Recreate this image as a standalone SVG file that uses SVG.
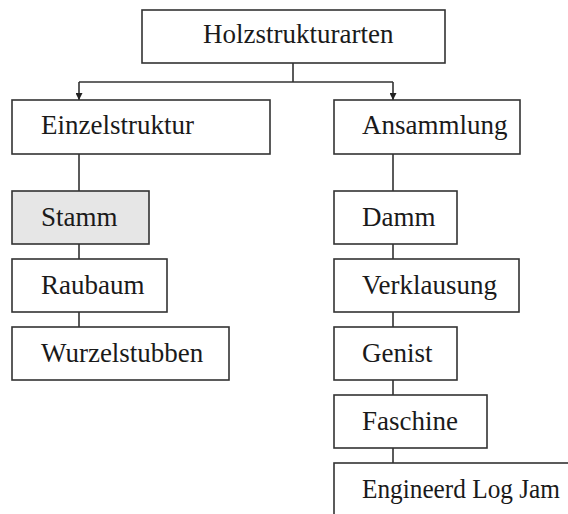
<svg xmlns="http://www.w3.org/2000/svg" width="568" height="514" viewBox="0 0 568 514">
  <style>
    .box { fill: #ffffff; stroke: #333333; stroke-width: 1.6; }
    .box.hl { fill: #e6e6e6; }
    .lbl { font-family: "Liberation Serif", "Times New Roman", serif; font-size: 27px; fill: #1a1a1a; }
    .con { fill: none; stroke: #333333; stroke-width: 1.6; }
  </style>
  <defs>
    <marker id="arrow" viewBox="0 0 10 10" refX="10" refY="5" markerWidth="8" markerHeight="7" orient="auto" markerUnits="userSpaceOnUse">
      <path d="M0,0 L10,5 L0,10 z" fill="#222222"/>
    </marker>
  </defs>
  <rect width="568" height="514" fill="#ffffff"/>

  <g id="connectors">
    <path class="con" d="M293,63 V82 M79,82 H393"/>
    <path class="con" d="M79,82 V100" marker-end="url(#arrow)"/>
    <path class="con" d="M393,82 V100" marker-end="url(#arrow)"/>
    <path class="con" d="M79,154 V191 M79,244 V259 M79,312 V327"/>
    <path class="con" d="M393,154 V191 M393,244 V259 M393,312 V327 M393,380 V395 M393,448 V463"/>
  </g>

  <g id="holzstrukturarten">
    <rect class="box" x="142" y="10" width="303" height="53"/>
    <text class="lbl" x="203" y="43">Holzstrukturarten</text>
  </g>
  <g id="einzelstruktur">
    <rect class="box" x="12" y="100" width="258" height="54"/>
    <text class="lbl" x="41" y="134">Einzelstruktur</text>
  </g>
  <g id="ansammlung">
    <rect class="box" x="334" y="100" width="186" height="54"/>
    <text class="lbl" x="362" y="134">Ansammlung</text>
  </g>
  <g id="stamm">
    <rect class="box hl" x="12" y="191" width="137" height="53"/>
    <text class="lbl" x="41" y="226">Stamm</text>
  </g>
  <g id="raubaum">
    <rect class="box" x="12" y="259" width="155" height="53"/>
    <text class="lbl" x="41" y="294">Raubaum</text>
  </g>
  <g id="wurzelstubben">
    <rect class="box" x="12" y="327" width="217" height="53"/>
    <text class="lbl" x="41" y="362">Wurzelstubben</text>
  </g>
  <g id="damm">
    <rect class="box" x="334" y="191" width="123" height="53"/>
    <text class="lbl" x="362" y="226">Damm</text>
  </g>
  <g id="verklausung">
    <rect class="box" x="334" y="259" width="185" height="53"/>
    <text class="lbl" x="362" y="294">Verklausung</text>
  </g>
  <g id="genist">
    <rect class="box" x="334" y="327" width="123" height="53"/>
    <text class="lbl" x="362" y="362">Genist</text>
  </g>
  <g id="faschine">
    <rect class="box" x="334" y="395" width="153" height="53"/>
    <text class="lbl" x="362" y="430">Faschine</text>
  </g>
  <g id="engineerd-log-jam">
    <rect class="box" x="334" y="463" width="250" height="60"/>
    <text class="lbl" x="362" y="498" textLength="198" lengthAdjust="spacingAndGlyphs">Engineerd Log Jam</text>
  </g>
</svg>
